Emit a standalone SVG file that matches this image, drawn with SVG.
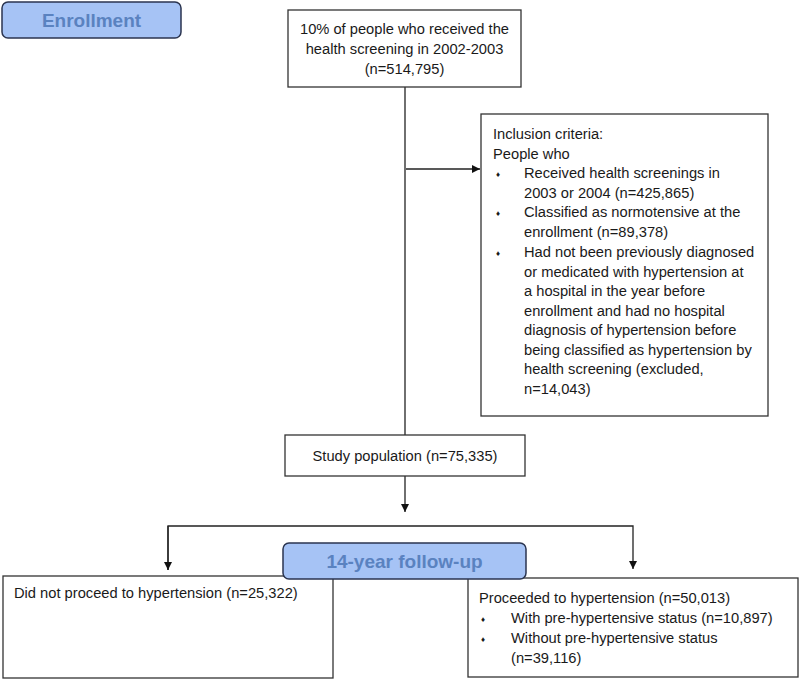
<svg xmlns="http://www.w3.org/2000/svg" width="800" height="679" viewBox="0 0 800 679">
<style>
text{font-family:"Liberation Sans",Arial,sans-serif;font-size:14.7px;fill:#1a1a1a}
.box{fill:#fff;stroke:#333;stroke-width:1.3}
.tag{fill:#a6c3f5;stroke:#2b3550;stroke-width:1.5}
.tagt{font-size:19px;font-weight:bold;fill:#5a82c0}
.ln{stroke:#222;stroke-width:1.3;fill:none}
.b{font-size:8px}
</style>
<defs>
<marker id="ah" viewBox="0 0 10 10" refX="10" refY="5" markerWidth="8" markerHeight="8" markerUnits="userSpaceOnUse" orient="auto">
<path d="M0,0 L10,5 L0,10 z" fill="#111"/>
</marker>
</defs>
<rect width="800" height="679" fill="#fff"/>
<g id="connectors">
<line class="ln" x1="405" y1="87" x2="405" y2="435"/>
<line class="ln" x1="406" y1="169" x2="480" y2="169" marker-end="url(#ah)"/>
<line class="ln" x1="405" y1="476" x2="405" y2="512" marker-end="url(#ah)"/>
<polyline class="ln" points="168,570 168,526 633,526 633,569" marker-end="url(#ah)"/>
<line class="ln" x1="168" y1="526" x2="168" y2="570" marker-end="url(#ah)"/>
</g>
<g id="enrollment">
<rect class="tag" x="2" y="2" width="179" height="36" rx="6"/>
<text class="tagt" x="91.5" y="27" text-anchor="middle">Enrollment</text>
</g>
<g id="screening">
<rect class="box" x="288" y="10" width="233" height="77"/>
<text x="404.5" y="34" text-anchor="middle">10% of people who received the</text>
<text x="404.5" y="54" text-anchor="middle">health screening in 2002-2003</text>
<text x="404.5" y="74" text-anchor="middle">(n=514,795)</text>
</g>
<g id="inclusion">
<rect class="box" x="481" y="114" width="287" height="302"/>
<text x="493" y="139">Inclusion criteria:</text>
<text x="493" y="159">People who</text>
<text class="b" x="496" y="177">♦</text>
<text x="524" y="178">Received health screenings in</text>
<text x="524" y="198">2003 or 2004 (n=425,865)</text>
<text class="b" x="496" y="216">♦</text>
<text x="524" y="217">Classified as normotensive at the</text>
<text x="524" y="237">enrollment (n=89,378)</text>
<text class="b" x="496" y="256">♦</text>
<text x="524" y="257">Had not been previously diagnosed</text>
<text x="524" y="277">or medicated with hypertension at</text>
<text x="524" y="296">a hospital in the year before</text>
<text x="524" y="316">enrollment and had no hospital</text>
<text x="524" y="335">diagnosis of hypertension before</text>
<text x="524" y="355">being classified as hypertension by</text>
<text x="524" y="374">health screening (excluded,</text>
<text x="524" y="394">n=14,043)</text>
</g>
<g id="study">
<rect class="box" x="285" y="435" width="240" height="41"/>
<text x="405" y="461" text-anchor="middle">Study population (n=75,335)</text>
</g>
<g id="notproceed">
<rect class="box" x="3" y="576" width="330" height="102"/>
<text x="14" y="598">Did not proceed to hypertension (n=25,322)</text>
</g>
<g id="proceeded">
<rect class="box" x="468" y="578" width="330" height="99"/>
<text x="479" y="603">Proceeded to hypertension (n=50,013)</text>
<text class="b" x="481" y="622">♦</text>
<text x="511" y="623">With pre-hypertensive status (n=10,897)</text>
<text class="b" x="481" y="642">♦</text>
<text x="511" y="643">Without pre-hypertensive status</text>
<text x="511" y="663">(n=39,116)</text>
</g>
<g id="followup">
<rect class="tag" x="283" y="543" width="243" height="36" rx="6"/>
<text class="tagt" x="404.5" y="568" text-anchor="middle">14-year follow-up</text>
</g>
</svg>
